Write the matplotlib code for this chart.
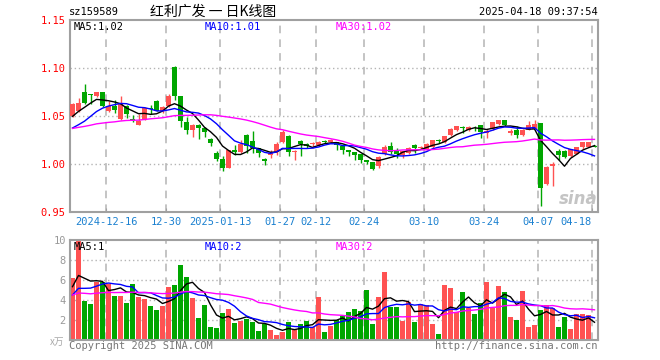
import numpy as np
import pandas as pd
import matplotlib
matplotlib.use("Agg")
import matplotlib.pyplot as plt

# ---- data (159589, daily K line) ----
opens = [1.0500, 1.0555, 1.0746, 1.0725, 1.0704, 1.0746, 1.0555, 1.0600, 1.0472, 1.0607,
         1.0472, 1.0410, 1.0472, 1.0583, 1.0652, 1.0548, 1.0600, 1.1010, 1.0710, 1.0440,
         1.0357, 1.0410, 1.0375, 1.0260, 1.0110, 1.0055, 0.9962, 1.0149, 1.0125, 1.0305,
         1.0243, 1.0167, 1.0052, 1.0095, 1.0125, 1.0229, 1.0295, 1.0130, 1.0243, 1.0212,
         1.0205, 1.0194, 1.0243, 1.0226, 1.0226, 1.0184, 1.0149, 1.0125, 1.0107, 1.0038,
         1.0017, 0.9976, 1.0107, 1.0191, 1.0132, 1.0097, 1.0114, 1.0201, 1.0170, 1.0160,
         1.0177, 1.0243, 1.0229, 1.0305, 1.0351, 1.0378, 1.0351, 1.0380, 1.0403, 1.0323,
         1.0364, 1.0420, 1.0455, 1.0323, 1.0357, 1.0298, 1.0357, 1.0368, 1.0427, 0.9795,
         0.9975, 1.0131, 1.0139, 1.0079, 1.0104, 1.0177, 1.0180, 1.0190]
highs = [1.0640, 1.0690, 1.0836, 1.0730, 1.0753, 1.0746, 1.0655, 1.0670, 1.0711, 1.0617,
         1.0510, 1.0520, 1.0593, 1.0617, 1.0662, 1.0600, 1.0728, 1.1020, 1.0710, 1.0490,
         1.0420, 1.0420, 1.0390, 1.0270, 1.0135, 1.0080, 1.0150, 1.0201, 1.0253, 1.0310,
         1.0347, 1.0170, 1.0060, 1.0150, 1.0226, 1.0357, 1.0300, 1.0150, 1.0250, 1.0215,
         1.0226, 1.0235, 1.0250, 1.0264, 1.0226, 1.0184, 1.0149, 1.0125, 1.0107, 1.0040,
         1.0017, 1.0087, 1.0201, 1.0226, 1.0167, 1.0140, 1.0177, 1.0205, 1.0191, 1.0215,
         1.0253, 1.0264, 1.0295, 1.0375, 1.0399, 1.0392, 1.0392, 1.0399, 1.0403, 1.0364,
         1.0440, 1.0462, 1.0455, 1.0364, 1.0392, 1.0360, 1.0444, 1.0455, 1.0430, 0.9976,
         1.0017, 1.0156, 1.0149, 1.0160, 1.0180, 1.0226, 1.0226, 1.0195]
lows = [1.0490, 1.0540, 1.0624, 1.0630, 1.0700, 1.0590, 1.0545, 1.0530, 1.0462, 1.0480,
        1.0434, 1.0403, 1.0462, 1.0520, 1.0548, 1.0530, 1.0590, 1.0662, 1.0390, 1.0310,
        1.0277, 1.0265, 1.0280, 1.0190, 1.0030, 0.9923, 0.9955, 1.0097, 1.0114, 1.0114,
        1.0114, 1.0073, 0.9989, 1.0060, 1.0097, 1.0219, 1.0080, 1.0038, 1.0087, 1.0170,
        1.0167, 1.0190, 1.0215, 1.0215, 1.0149, 1.0107, 1.0080, 1.0045, 1.0010, 1.0003,
        0.9940, 0.9958, 1.0097, 1.0107, 1.0063, 1.0063, 1.0107, 1.0114, 1.0160, 1.0149,
        1.0170, 1.0219, 1.0220, 1.0288, 1.0340, 1.0323, 1.0340, 1.0340, 1.0271, 1.0271,
        1.0357, 1.0410, 1.0392, 1.0305, 1.0271, 1.0288, 1.0350, 1.0360, 0.9560, 0.9785,
        0.9770, 1.0045, 1.0063, 1.0070, 1.0100, 1.0160, 1.0175, 1.0175]
closes = [1.0630, 1.0640, 1.0631, 1.0718, 1.0746, 1.0600, 1.0600, 1.0566, 1.0628, 1.0524,
          1.0451, 1.0451, 1.0583, 1.0576, 1.0555, 1.0590, 1.0710, 1.0710, 1.0450, 1.0350,
          1.0410, 1.0370, 1.0330, 1.0220, 1.0055, 0.9960, 1.0142, 1.0125, 1.0212, 1.0191,
          1.0167, 1.0114, 1.0028, 1.0110, 1.0208, 1.0333, 1.0125, 1.0135, 1.0208, 1.0184,
          1.0210, 1.0229, 1.0226, 1.0250, 1.0201, 1.0149, 1.0125, 1.0097, 1.0038, 1.0017,
          0.9951, 1.0073, 1.0177, 1.0121, 1.0107, 1.0132, 1.0167, 1.0167, 1.0180, 1.0212,
          1.0247, 1.0236, 1.0288, 1.0368, 1.0392, 1.0372, 1.0385, 1.0370, 1.0330, 1.0340,
          1.0434, 1.0455, 1.0410, 1.0340, 1.0298, 1.0357, 1.0410, 1.0420, 0.9750, 0.9965,
          1.0003, 1.0097, 1.0069, 1.0156, 1.0173, 1.0225, 1.0225, 1.0180]
# volume, 万手
volumes = [6.17, 10.2, 3.9, 3.6, 5.77, 5.83, 5.6, 4.43, 4.43, 3.73,
           5.6, 4.33, 4.1, 3.43, 3.0, 3.4, 5.33, 5.5, 7.5, 6.3,
           4.23, 2.23, 3.5, 1.33, 1.2, 2.7, 3.1, 1.73, 1.93, 2.1,
           1.83, 0.9, 1.57, 1.0, 0.53, 0.83, 1.83, 1.0, 1.6, 1.93,
           1.3, 4.33, 0.83, 1.43, 2.0, 2.43, 2.83, 3.1, 2.9, 5.0,
           1.6, 4.33, 6.83, 3.33, 3.33, 1.93, 3.77, 1.83, 3.6, 3.5,
           1.6, 0.6, 5.5, 5.23, 2.77, 4.83, 3.17, 2.6, 3.67, 5.83,
           3.17, 5.4, 4.83, 2.33, 2.0, 4.93, 1.33, 1.5, 3.0, 3.5,
           3.17, 1.33, 2.33, 1.1, 2.57, 2.57, 2.5, 0.13]

# sessions before the visible window (estimated from where the MA lines start)
prior_closes = [1.030, 1.033, 1.035, 1.032, 1.036, 1.038, 1.040, 1.037, 1.035, 1.039,
                1.041, 1.038, 1.036, 1.040, 1.042, 1.039, 1.037, 1.036, 1.035, 1.037,
                1.030, 1.026, 1.022, 1.024, 1.025, 1.038, 1.042, 1.050, 1.055]
prior_volumes = [4.2, 4.8, 5.1, 3.9, 4.4, 4.6, 5.0, 4.1, 3.8, 4.7,
                 4.9, 4.3, 4.5, 4.6, 4.2, 4.8, 4.4, 4.7, 4.5, 4.5,
                 3.5, 3.9, 3.4, 3.8, 3.7, 4.6, 5.3, 5.0, 5.6]

tick_idx = [6, 16, 25, 35, 41, 49, 59, 69, 78, 87]
tick_lbl = ["2024-12-16", "12-30", "2025-01-13", "01-27", "02-12",
            "02-24", "03-10", "03-24", "04-07", "04-18"]
price_ticks = [0.95, 1.00, 1.05, 1.10, 1.15]
vol_ticks = [2, 4, 6, 8, 10]
ma_periods = [5, 10, 30]
ma_colors = ["black", "#0000ff", "#ff00ff"]
price_ma_text = ["MA5:1.02", "MA10:1.01", "MA30:1.02"]
vol_ma_text = ["MA5:1", "MA10:2", "MA30:2"]

RED = "#ff5252"
GREEN = "#00a600"
GRID = "#b4b4b4"
BORDER = "#a0a0a0"
BLUE_TXT = "#1a80d0"
MONO = "DejaVu Sans Mono"
CJK = ["Noto Sans CJK SC", "DejaVu Sans"]
FS = 7.5

W, H = 660, 360


def fx(px):
    return px / W


def fy(py):
    return 1 - py / H


o = np.array(opens)
c = np.array(closes)
hi = np.array(highs)
lo = np.array(lows)
v = np.array(volumes)
n = len(c)
x = np.arange(n)
colors = np.where(c >= o, RED, GREEN)

c_all = pd.Series(prior_closes + closes)
v_all = pd.Series(prior_volumes + volumes)
price_ma = [c_all.rolling(p).mean().to_numpy()[-n:] for p in ma_periods]
vol_ma = [v_all.rolling(p).mean().to_numpy()[-n:] for p in ma_periods]

fig = plt.figure(figsize=(W / 100, H / 100), dpi=100)
ax = fig.add_axes([fx(70), fy(212), 528 / W, 192 / H])
axv = fig.add_axes([fx(70), fy(340), 528 / W, 100 / H])

xlim = (-5 / 12, n - 5 / 12)
vline_x = [i - 5 / 12 for i in tick_idx]

for a in (ax, axv):
    a.set_xlim(*xlim)
    for s in a.spines.values():
        s.set_color(BORDER)
        s.set_linewidth(1.5)
    for xv in vline_x:
        a.axvline(xv, color=GRID, lw=1.1, ls=(0, (5, 4)), zorder=0)

# ---- candles ----
ax.set_ylim(0.95, 1.15)
for yv in price_ticks[1:-1]:
    ax.axhline(yv, color=GRID, lw=1, ls=(0, (1, 2)), zorder=0)
ax.vlines(x, lo, hi, colors=colors, lw=1, zorder=2)
body = np.maximum(np.abs(c - o), 0.0009)
ax.bar(x, body, bottom=np.minimum(o, c), width=0.8, color=colors, zorder=3)
for ma, col in zip(price_ma, ma_colors):
    ax.plot(x, ma, color=col, lw=1, zorder=4)

ax.set_yticks(price_ticks)
ax.set_yticklabels([f"{t:.2f}" for t in price_ticks], color="red",
                   fontsize=FS, family=MONO)
ax.set_xticks(vline_x)
ax.set_xticklabels([])
ax.tick_params(axis="y", length=0, pad=3)
ax.tick_params(axis="x", direction="in", length=3, color=BORDER)

for i, lbl in zip(tick_idx, tick_lbl):
    xv = i - 5 / 12
    ha = "right" if i == tick_idx[-1] else "center"
    ax.annotate(lbl, (xv, 0), xycoords=("data", "axes fraction"),
                xytext=(0, -10), textcoords="offset pixels",
                ha=ha, va="center", color=BLUE_TXT, fontsize=FS, family=MONO)

for txt, col, px in zip(price_ma_text, ma_colors, [74, 205, 336]):
    fig.text(fx(px), fy(27), txt, color=col, fontsize=FS, family=MONO,
             va="center", ha="left")

fig.text(fx(578), fy(199), "sina", color="#c4c4c4", fontsize=12,
         fontweight="bold", style="italic", ha="center", va="center")

# ---- volume ----
axv.set_ylim(0, 10)
for yv in vol_ticks[:-1]:
    axv.axhline(yv, color=GRID, lw=1, ls=(0, (1, 2)), zorder=0)
axv.bar(x, v, width=0.8, color=colors, zorder=2)
for ma, col in zip(vol_ma, ma_colors):
    axv.plot(x, ma, color=col, lw=1, zorder=3)
axv.set_yticks(vol_ticks)
axv.set_yticklabels([str(t) for t in vol_ticks], color="#999999",
                    fontsize=FS, family=MONO)
axv.set_xticks([])
axv.tick_params(axis="y", length=0, pad=3)

for txt, col, px in zip(vol_ma_text, ma_colors, [74, 205, 336]):
    fig.text(fx(px), fy(247), txt, color=col, fontsize=FS, family=MONO,
             va="center", ha="left")

# ---- header / footer ----
fig.text(fx(69), fy(12), "sz159589", fontsize=FS, family=MONO, va="center")
fig.text(fx(150), fy(12), "红利广发 一 日K线图", fontsize=10, family=CJK,
         va="center")
fig.text(fx(598), fy(12), "2025-04-18 09:37:54", fontsize=FS, family=MONO,
         va="center", ha="right")
fig.text(fx(64), fy(342), "x万", fontsize=7, family=CJK, color="#aaaaaa",
         va="center", ha="right")
fig.text(fx(69), fy(346), "Copyright 2025 SINA.COM", fontsize=FS,
         family=MONO, color="#777777", va="center")
fig.text(fx(598), fy(346), "http://finance.sina.com.cn", fontsize=FS,
         family=MONO, color="#777777", va="center", ha="right")

fig.savefig("out.png", dpi=100)
